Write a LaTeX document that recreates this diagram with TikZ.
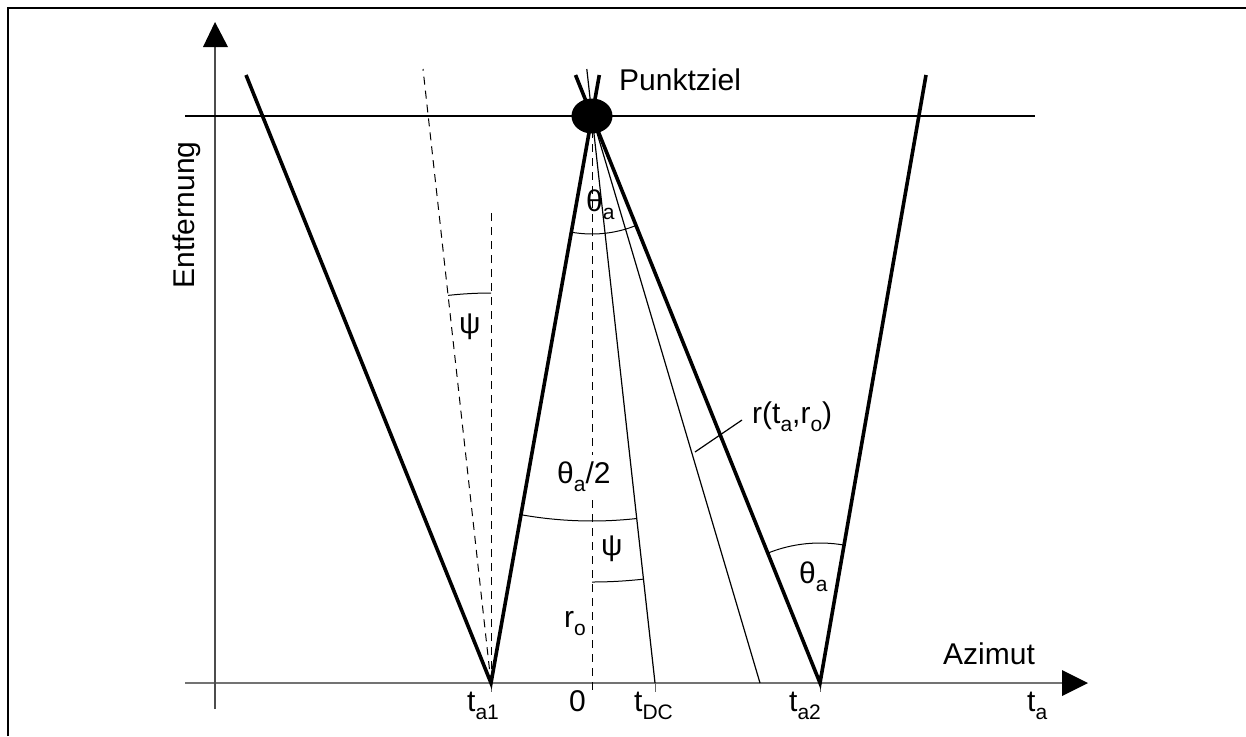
\documentclass[tikz,border=0pt]{standalone}
\usepackage{fontspec}
\setmainfont{Liberation Sans}
\usetikzlibrary{shapes.geometric}
\newcommand\mysub[1]{\raisebox{-8pt}{\fontsize{21}{21}\selectfont #1}}
\tikzset{
  lbl/.style={font=\fontsize{30}{36}\selectfont, inner sep=0pt, anchor=base west},
  beam/.style={line width=3.6pt},
  thin/.style={line width=1.2pt},
  dsh/.style={line width=1pt, dash pattern=on 8pt off 6pt},
  axisline/.style={line width=1.6pt, draw=black!55},
  angarc/.style={line width=1pt},
  tick/.style={line width=1pt, draw=black!60},
}
\begin{document}
\begin{tikzpicture}[x=1pt,y=-1pt]
\useasboundingbox (0,0) rectangle (1246,736);
% frame
\draw[line width=1.2pt] (8,736) -- (8,8) -- (1246,8);
% coordinates
\coordinate (T) at (592,116);
\coordinate (A1) at (491,683);
\coordinate (A2) at (820,683);
\coordinate (O) at (592,692);
\coordinate (DC) at (655,683);
\coordinate (R) at (760,683);
\coordinate (L1) at (246,75);
\coordinate (R2) at (926,75);
\coordinate (E1) at (599.3,75);
\coordinate (E2) at (575.5,75);
\coordinate (S1) at (423,69);
\coordinate (V1) at (491,213);
\coordinate (DCtop) at (586.8,69);
\coordinate (G1) at (592,455);
\coordinate (G2) at (592,500);
% axes
\coordinate (Xs) at (185,683);
\coordinate (Xe) at (1062,683);
\coordinate (Ys) at (215,709);
\coordinate (Ye) at (215,47);
\draw[axisline] (Xs) -- (Xe);
\draw[axisline, draw=black!70] (Ys) -- (Ye);
\fill (1062,670) -- (1088,683) -- (1062,696) -- cycle;
\fill (203,47) -- (215,22) -- (228,47) -- cycle;
% horizontal range line
\coordinate (H1) at (185,116);
\coordinate (H2) at (1035,116);
\draw[thin] (H1) -- (H2);
% ticks
\draw[tick] (A1) -- ++(0,9);
\draw[tick] (DC) -- ++(0,9);
\draw[tick] (A2) -- ++(0,9);
% dashed lines
\draw[dsh] (A1) -- (S1);
\draw[dsh] (A1) -- (V1);
\draw[dsh] (T) -- (G1);
\draw[dsh] (G2) -- (O);
% thin lines from target
\draw[thin] (DCtop) -- (DC);
\draw[thin] (T) -- (R);
% beams
\draw[beam] (L1) -- (A1) -- (E1);
\draw[beam] (E2) -- (A2) -- (R2);
% target
\node[ellipse, fill=black, minimum width=41pt, minimum height=35pt, inner sep=0pt] (TG) at (T) {};
% angle arcs
\draw[angarc] (T) ++(100.1:118) arc[start angle=100.1, end angle=68.1, radius=118];
\draw[angarc] (T) ++(100.1:405) arc[start angle=100.1, end angle=83.7, radius=405];
\draw[angarc] (T) ++(90:466) arc[start angle=90, end angle=83.7, radius=466];
\draw[angarc] (A1) ++(263.7:390) arc[start angle=263.7, end angle=270, radius=390];
\draw[angarc] (A2) ++(248.1:140) arc[start angle=248.1, end angle=279.9, radius=140];
% leader
\coordinate (Ls) at (695,452);
\coordinate (Le) at (742,420);
\draw[thin] (Ls) -- (Le);
% labels
\node[lbl] (punkt) at (619,90) {Punktziel};
\node[font=\fontsize{30}{36}\selectfont, inner sep=0pt, rotate=90] (entf) at (187,215) {Entfernung};
\node[lbl] (azi) at (943,664) {Azimut};
\node[lbl] (ta) at (1027,711) {t\mysub{a}};
\node[lbl] (ta1) at (467,711) {t\mysub{a1}};
\node[lbl] (zero) at (569,711) {0};
\node[lbl] (tdc) at (634,711) {t\mysub{DC}};
\node[lbl] (ta2) at (789,711) {t\mysub{a2}};
\node[lbl] (tha) at (586,211) {θ\mysub{a}};
\node[lbl] (psi1) at (459,333) {ψ};
\node[lbl] (tha2) at (557,483) {θ\mysub{a}/2};
\node[lbl] (psi2) at (601,555) {ψ};
\node[lbl] (ro) at (564,627) {r\mysub{o}};
\node[lbl] (tha3) at (799,583) {θ\mysub{a}};
\node[lbl] (rlab) at (752,423) {r(t\mysub{a},r\mysub{o})};
\end{tikzpicture}
\end{document}
